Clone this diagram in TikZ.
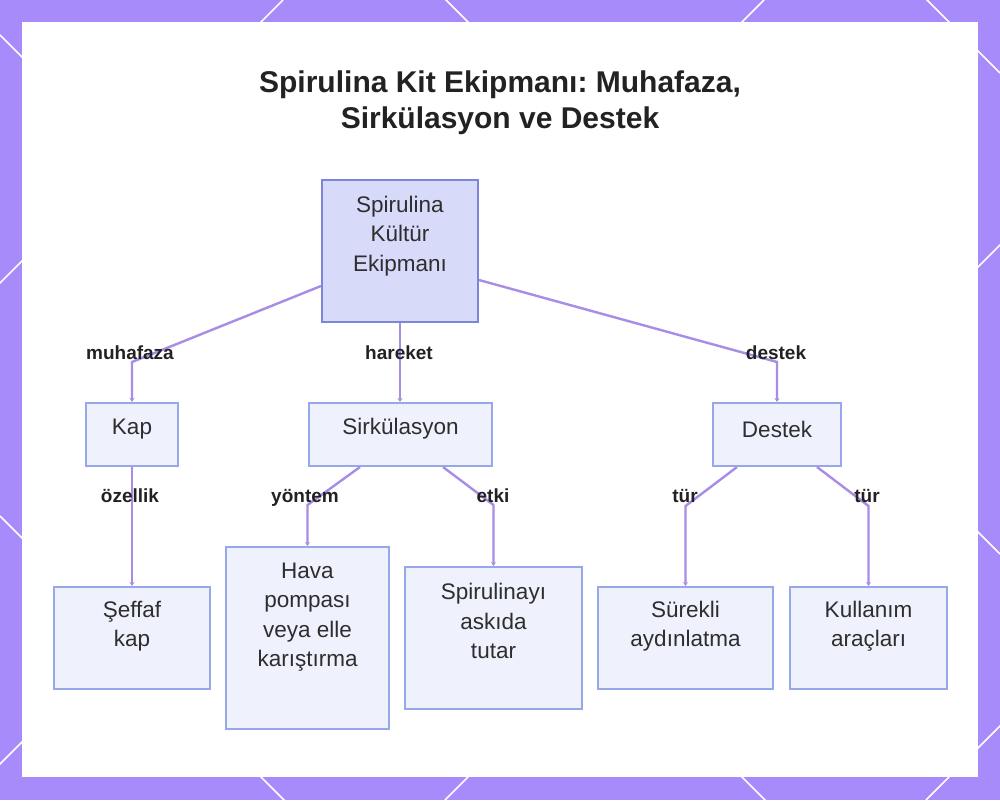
\documentclass[tikz,border=0pt]{standalone}
\usepackage{fontspec}
\setmainfont{Liberation Sans}
\usetikzlibrary{arrows.meta}
\frenchspacing
\definecolor{bgpurple}{HTML}{A78BFA}
\definecolor{rootfill}{HTML}{D8DAFA}
\definecolor{rootdraw}{HTML}{7B86D9}
\definecolor{boxfill}{HTML}{EFF1FD}
\definecolor{boxdraw}{HTML}{97A8EA}
\definecolor{conncol}{HTML}{A88CE6}
\definecolor{txtcol}{HTML}{2E2E2E}
\definecolor{lblcol}{HTML}{222222}
\tikzset{
  rootbox/.style={draw=rootdraw, fill=rootfill, line width=2pt, inner sep=0pt},
  childbox/.style={draw=boxdraw, fill=boxfill, line width=2pt, inner sep=0pt},
  boxtext/.style={text=txtcol, align=center, inner sep=0pt, font=\fontsize{22.5}{29.5}\selectfont},
  lbl/.style={text=lblcol, inner sep=0pt, anchor=base, font=\fontsize{19}{22}\selectfont\bfseries},
  conn/.style={draw=conncol, line width=2.4pt, -{Stealth[length=4pt,width=5pt]}},
  lattice/.style={draw=white, line width=1.6pt}
}
\begin{document}
\begin{tikzpicture}[x=1pt,y=-1pt]
\useasboundingbox (0,0) rectangle (1000,800);
% background
\fill[bgpurple] (0,0) rectangle (1000,800);
\begin{scope}
\clip (0,0) rectangle (1000,800);
\foreach \c in {283,764,1245,1726} {
  \draw[lattice] (\c,0) -- (\c-800,800);
}
\foreach \d in {516,35,-446,-927} {
  \draw[lattice] (0,\d) -- (1000,1000+\d);
}
\end{scope}
\fill[white] (22,22) rectangle (978,777);

% title
\node[text=lblcol, align=center, inner sep=0pt, font=\fontsize{30}{36}\selectfont\bfseries] (title) at (500,103)
  {Spirulina Kit Ekipmanı: Muhafaza,\\Sirkülasyon ve Destek};

% boxes
\node[rootbox, minimum width=156pt, minimum height=142pt] (root) at (400,251) {};
\node[boxtext] (rootT) at (400,236) {Spirulina\\Kültür\\Ekipmanı};

\node[childbox, minimum width=92pt, minimum height=63pt] (kap) at (132,434.5) {};
\node[boxtext] (kapT) at (132,429) {Kap};

\node[childbox, minimum width=183pt, minimum height=63pt] (sirk) at (400.5,434.5) {};
\node[boxtext] (sirkT) at (400.5,429) {Sirkülasyon};

\node[childbox, minimum width=128pt, minimum height=63pt] (destek) at (777,434.5) {};
\node[boxtext] (destekT) at (777,429) {Destek};

\node[childbox, minimum width=156pt, minimum height=102pt] (seffaf) at (132,638) {};
\node[boxtext] (seffafT) at (132,626) {Şeffaf\\kap};

\node[childbox, minimum width=163pt, minimum height=182pt] (hava) at (307.5,638) {};
\node[boxtext] (havaT) at (307.5,617) {Hava\\pompası\\veya elle\\karıştırma};

\node[childbox, minimum width=177pt, minimum height=142pt] (spir) at (493.5,638) {};
\node[boxtext] (spirT) at (493.5,621) {Spirulinayı\\askıda\\tutar};

\node[childbox, minimum width=175pt, minimum height=102pt] (surekli) at (685.5,638) {};
\node[boxtext] (surekliT) at (685.5,626) {Sürekli\\aydınlatma};

\node[childbox, minimum width=157pt, minimum height=102pt] (kull) at (868.5,638) {};
\node[boxtext] (kullT) at (868.5,626) {Kullanım\\araçları};

% bend coordinates
\coordinate (bKap) at (132,362);
\coordinate (bDes) at (777,362);
\coordinate (bHava) at (307.5,505);
\coordinate (bSpir) at (493.5,505);
\coordinate (bSur) at (685.5,506);
\coordinate (bKul) at (868.5,506);

% connectors
\draw[conn] ([yshift=-35pt]root.west) -- (bKap) -- (kap.north);
\draw[conn] (root.south) -- (sirk.north -| root.south);
\draw[conn] ([yshift=-29pt]root.east) -- (bDes) -- (destek.north);
\draw[conn] (kap.south) -- (seffaf.north);
\draw[conn] ([xshift=-40.5pt]sirk.south) -- (bHava) -- (hava.north);
\draw[conn] ([xshift=42.5pt]sirk.south) -- (bSpir) -- (spir.north);
\draw[conn] ([xshift=-40pt]destek.south) -- (bSur) -- (surekli.north);
\draw[conn] ([xshift=40pt]destek.south) -- (bKul) -- (kull.north);

% edge labels
\node[lbl] (l1) at (130,359) {muhafaza};
\node[lbl] (l2) at (399,359) {hareket};
\node[lbl] (l3) at (776,359) {destek};
\node[lbl] (l4) at (130,502) {özellik};
\node[lbl] (l5) at (305,502) {yöntem};
\node[lbl] (l6) at (493,502) {etki};
\node[lbl] (l7) at (685,502) {tür};
\node[lbl] (l8) at (867,502) {tür};
\end{tikzpicture}
\end{document}
